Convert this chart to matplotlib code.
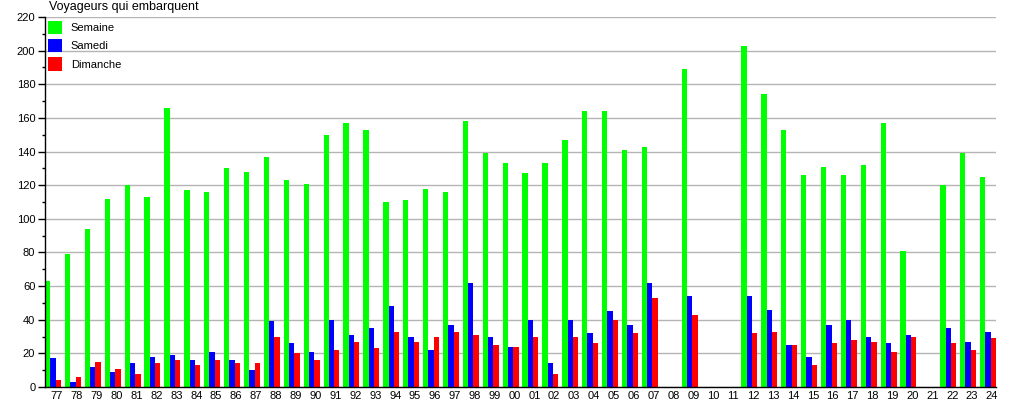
import numpy as np
import matplotlib
matplotlib.use("Agg")
import matplotlib.pyplot as plt
from matplotlib.ticker import MultipleLocator

plt.rcParams['font.family'] = ['Liberation Sans', 'DejaVu Sans']

years = ["77", "78", "79", "80", "81", "82", "83", "84", "85", "86", "87", "88",
         "89", "90", "91", "92", "93", "94", "95", "96", "97", "98", "99", "00",
         "01", "02", "03", "04", "05", "06", "07", "08", "09", "10", "11", "12",
         "13", "14", "15", "16", "17", "18", "19", "20", "21", "22", "23", "24"]
nan = np.nan
semaine = [63, 79, 94, 112, 120, 113, 166, 117, 116, 130, 128, 137,
           123, 121, 150, 157, 153, 110, 111, 118, 116, 158, 139, 133,
           127, 133, 147, 164, 164, 141, 143, nan, 189, nan, nan, 203,
           174, 153, 126, 131, 126, 132, 157, 81, nan, 120, 139, 125]
samedi = [17, 3, 12, 9, 14, 18, 19, 16, 21, 16, 10, 39,
          26, 21, 40, 31, 35, 48, 30, 22, 37, 62, 30, 24,
          40, 14, 40, 32, 45, 37, 62, nan, 54, nan, nan, 54,
          46, 25, 18, 37, 40, 30, 26, 31, nan, 35, 27, 33]
dimanche = [4, 6, 15, 11, 8, 14, 16, 13, 16, 14, 14, 30,
            20, 16, 22, 27, 23, 33, 27, 30, 33, 31, 25, 24,
            30, 8, 30, 26, 40, 32, 53, nan, 43, nan, nan, 32,
            33, 25, 13, 26, 28, 27, 21, 30, nan, 26, 22, 29]
series_names = ["Semaine", "Samedi", "Dimanche"]
title = "Voyageurs qui embarquent"

fig = plt.figure(figsize=(10.15, 4.0), dpi=100)
ax = fig.add_axes([45 / 1015, 1 - 387 / 400, 951 / 1015, 370 / 400])

x = np.arange(len(years))
w = 0.267
colors = ["#00ff00", "#0000ff", "#ff0000"]
for k, (vals, name) in enumerate(zip([semaine, samedi, dimanche], series_names)):
    ax.bar(x + k * w, vals, width=w, align='edge', color=colors[k], label=name,
           linewidth=0, zorder=3)

ax.set_xlim(0, len(years) - 1 + 3 * w)
ax.set_ylim(0, 220)
ax.yaxis.set_major_locator(MultipleLocator(20))
ax.yaxis.set_minor_locator(MultipleLocator(10))
ax.set_xticks(x + 0.6)
ax.set_xticklabels(years)
ax.tick_params(axis='x', length=0, pad=3, labelsize=8)
ax.tick_params(axis='y', which='major', length=5, width=1, labelsize=8, pad=2)
ax.tick_params(axis='y', which='minor', length=2.5, width=1)
ax.grid(axis='y', which='major', color='#b4b4b4', linewidth=1, zorder=0)
ax.set_axisbelow(True)
for s in ['top', 'right']:
    ax.spines[s].set_visible(False)
for s in ['left', 'bottom']:
    ax.spines[s].set_color('black')
    ax.spines[s].set_linewidth(1)
    ax.spines[s].set_zorder(4)

fig.text(49 / 1015, 1 - 7 / 400, title, fontsize=9, ha='left', va='center')

leg = ax.legend(loc='upper left', bbox_to_anchor=(48 / 1015, 1 - 21 / 400),
                bbox_transform=fig.transFigure, frameon=False, fontsize=8,
                handlelength=1.3, handleheight=1.45, handletextpad=0.75,
                labelspacing=0.45, borderpad=0, borderaxespad=0)

fig.savefig("out.png", dpi=100)
